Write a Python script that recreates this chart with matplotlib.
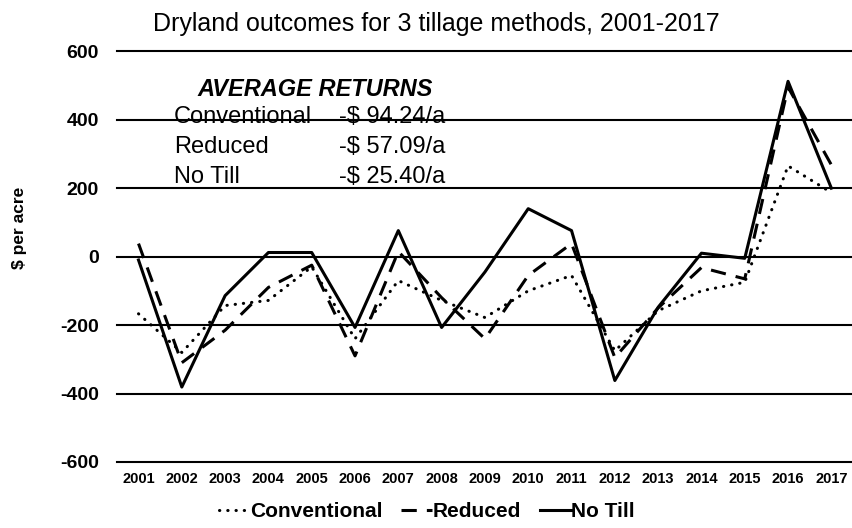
import matplotlib.pyplot as plt
import numpy as np

plt.rcParams["font.family"] = ["Liberation Sans", "DejaVu Sans"]
plt.rcParams["axes.unicode_minus"] = False

years = [str(y) for y in range(2001, 2018)]
conventional = [-167, -280, -143, -128, -30, -240, -70, -128, -178, -100, -55,
                -275, -158, -100, -75, 265, 187]
reduced = [38, -310, -215, -90, -25, -290, 15, -120, -240, -55, 38,
           -295, -150, -32, -65, 495, 268]
no_till = [-10, -381, -114, 12, 12, -207, 76, -207, -45, 140, 76,
           -362, -148, 10, -5, 512, 200]

avg_labels = ["Conventional", "Reduced", "No Till"]
avg_values = ["-$ 94.24/a", "-$ 57.09/a", "-$ 25.40/a"]

fig = plt.figure(figsize=(8.53, 5.28), dpi=100)
ax = fig.add_axes([0.137, 0.125, 0.863, 0.778])

x = np.arange(len(years))
lw = 2.2
ax.plot(x, conventional, color="black", lw=lw, linestyle=(0, (0.1, 2.6)),
        dash_capstyle="round", label="Conventional")
ax.plot(x, reduced, color="black", lw=lw, linestyle=(0, (5, 3.3)),
        label="Reduced")
ax.plot(x, no_till, color="black", lw=lw, linestyle="-", label="No Till")

ax.set_xlim(-0.5, len(years) - 0.5)
ax.set_ylim(-600, 600)
ax.set_yticks(np.arange(-600, 601, 200))
ax.set_xticks(x)
ax.set_xticklabels(years, fontsize=10.5, fontweight="bold")
ax.set_yticklabels([str(v) for v in range(-600, 601, 200)],
                   fontsize=14, fontweight="bold")
ax.tick_params(axis="y", length=0, pad=13)
ax.tick_params(axis="x", length=0, pad=7)

ax.grid(axis="y", color="black", lw=1.5)
for gl in ax.get_ygridlines():
    gl.set_clip_on(False)
ax.set_axisbelow(True)
for side in ["top", "right", "left", "bottom"]:
    ax.spines[side].set_visible(False)

fig.text(0.023, 0.568, "$ per acre", rotation=90, ha="center", va="center",
         fontsize=12.5, fontweight="bold")

fig.text(0.511, 0.941, "Dryland outcomes for 3 tillage methods, 2001-2017",
         ha="center", va="baseline", fontsize=18)

# average returns box
fig.text(0.370, 0.818, "AVERAGE RETURNS", ha="center", va="baseline",
         fontsize=17, fontweight="bold", style="italic")
row_y = [0.767, 0.710, 0.653]
for lab, val, yy in zip(avg_labels, avg_values, row_y):
    fig.text(0.204, yy, lab, ha="left", va="baseline", fontsize=17)
    fig.text(0.397, yy, val, ha="left", va="baseline", fontsize=17)

fig.legend(loc="lower center", bbox_to_anchor=(0.5, -0.022), ncol=3,
           frameon=False, prop={"size": 15, "weight": "bold"},
           handlelength=1.5, handletextpad=0.0, columnspacing=0.9)

fig.savefig("out.png", dpi=100)
